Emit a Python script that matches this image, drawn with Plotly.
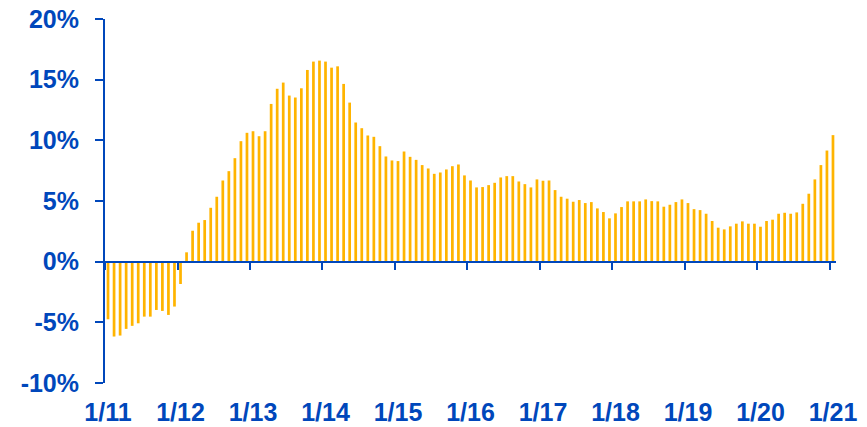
import numpy as np
import plotly.graph_objects as go

# monthly values, 1/2011 .. 1/2021 (%)
values = [
    -4.75, -6.17, -6.09, -5.54, -5.29, -5.08, -4.53, -4.53, -3.98, -4.06, -4.39, -3.70,
    -1.84, 0.77, 2.55, 3.21, 3.43, 4.44, 5.35, 6.69, 7.46, 8.53, 9.93, 10.62,
    10.75, 10.34, 10.75, 13.0, 14.25, 14.76, 13.69, 13.53, 14.29, 15.80, 16.49, 16.57,
    16.49, 15.99, 16.10, 14.65, 13.11, 11.47, 11.0, 10.40, 10.29, 9.52, 8.67, 8.34,
    8.29, 9.08, 8.64, 8.39, 7.96, 7.68, 7.24, 7.35, 7.60, 7.87, 8.01, 7.11,
    6.69, 6.12, 6.15, 6.31, 6.50, 6.94, 7.05, 7.05, 6.61, 6.39, 6.12, 6.78,
    6.67, 6.69, 5.90, 5.35, 5.19, 4.94, 5.08, 4.83, 4.91, 4.39, 4.09, 3.57,
    3.98, 4.50, 4.97, 4.97, 4.97, 5.13, 4.99, 4.97, 4.53, 4.69, 4.91, 5.13,
    4.83, 4.33, 4.25, 3.95, 3.35, 2.80, 2.66, 2.91, 3.13, 3.32, 3.13, 3.13,
    2.88, 3.35, 3.46, 3.95, 4.03, 3.95, 4.06, 4.77, 5.60, 6.78, 7.96, 9.16,
    10.43,
]
x_labels = ['1/11', '1/12', '1/13', '1/14', '1/15', '1/16',
            '1/17', '1/18', '1/19', '1/20', '1/21']
y_vals = [-10, -5, 0, 5, 10, 15, 20]
y_labels = ['-10%', '-5%', '0%', '5%', '10%', '15%', '20%']

blue = '#0047BB'
bar_col = '#FFB400'
font = dict(family='Arial, Liberation Sans', size=25, color=blue, weight='bold')

months = np.arange(len(values))

fig = go.Figure()
fig.add_trace(go.Bar(x=months + 0.5, y=values, width=0.45,
                     marker=dict(color=bar_col, line=dict(width=0))))

# page body has an 8px margin, so the figure is a bit smaller than the window
fig.update_layout(
    width=859, height=419,
    margin=dict(l=97, r=31, t=11, b=44),
    plot_bgcolor='white', paper_bgcolor='white',
    showlegend=False, font=font,
)
fig.update_xaxes(
    range=[0, 121], anchor='free', position=1 / 3,
    tickvals=list(range(0, 121, 12)), ticktext=x_labels,
    ticks='outside', ticklen=7, tickwidth=2, tickcolor=blue,
    showline=True, linecolor=blue, linewidth=2,
    showgrid=False, zeroline=False, automargin=False,
    ticklabelstandoff=121, ticklabelshift=3, tickfont=font,
    ticklabeloverflow='allow',
)
fig.update_yaxes(
    range=[-10, 20], tickvals=y_vals, ticktext=y_labels,
    ticks='outside', ticklen=8, tickwidth=2, tickcolor=blue,
    showline=True, linecolor=blue, linewidth=2,
    showgrid=False, zeroline=False, automargin=False,
    ticklabelstandoff=11, tickfont=font, ticklabeloverflow='allow',
)

fig.write_html("out.html")
